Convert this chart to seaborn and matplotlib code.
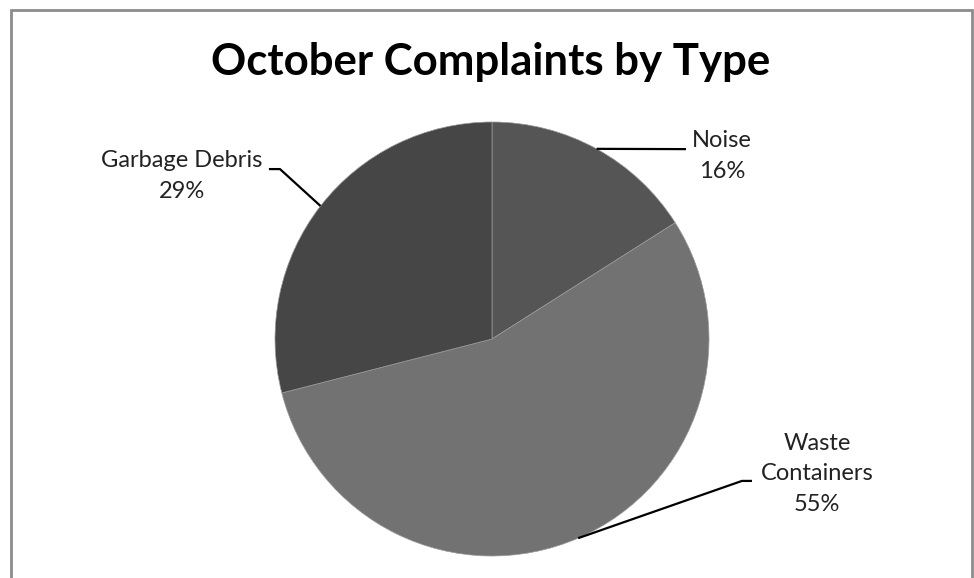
import numpy as np
import matplotlib
matplotlib.use("Agg")
import matplotlib.pyplot as plt
from matplotlib.patches import Rectangle
import seaborn as sns

# data
categories = ["Noise", "Waste\nContainers", "Garbage Debris"]
shares = [16, 55, 29]
slice_colors = ["#555555", "#727272", "#464646"]

sns.set_theme(style="white")
plt.rcParams['font.family'] = ['Lato', 'DejaVu Sans']

fig = plt.figure(figsize=(9.74, 5.78), dpi=100)

# chart frame (open at the bottom)
fig.patches.append(Rectangle((11 / 974, -0.05), 961 / 974, 568 / 578 + 0.05,
                             transform=fig.transFigure, fill=False,
                             edgecolor="#8c8c8c", linewidth=2.0))

ax = fig.add_axes([275 / 974, 22 / 578, 434 / 974, 434 / 578])
wedges, _ = ax.pie(shares, colors=slice_colors, startangle=90, counterclock=False,
                   wedgeprops=dict(edgecolor="#9a9a9a", linewidth=0.5))
ax.set_xlim(-1, 1)
ax.set_ylim(-1, 1)
ax.set_aspect("equal")
ax.axis("off")

# label layout: (text centre, leader elbow points)
label_pos = [
    ((1.059, 0.843), [(0.894, 0.875), (0.894, 0.875)]),
    ((1.498, -0.622), [(1.152, -0.654), (1.198, -0.654)]),
    ((-1.430, 0.751), [(-0.977, 0.783), (-1.028, 0.783)]),
]

for w, cat, val, (txt, elbow) in zip(wedges, categories, shares, label_pos):
    mid = np.deg2rad((w.theta1 + w.theta2) / 2)
    edge = (np.cos(mid), np.sin(mid))
    xs = [edge[0]] + [p[0] for p in elbow]
    ys = [edge[1]] + [p[1] for p in elbow]
    ax.plot(xs, ys, color="black", linewidth=1.6, clip_on=False, solid_capstyle="butt")
    ax.text(txt[0], txt[1], f"{cat}\n{val}%", ha="center", va="center", fontsize=17,
            color="#222222", linespacing=1.55, clip_on=False)

fig.text(491 / 974, 1 - 62 / 578, "October Complaints by Type", ha="center", va="center",
         fontsize=31.5, fontweight="bold", color="black")

fig.savefig("out.png", dpi=100)
